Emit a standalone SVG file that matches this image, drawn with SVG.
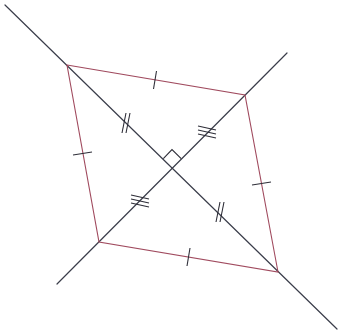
<svg xmlns="http://www.w3.org/2000/svg" width="339" height="334" viewBox="0 0 339 334">
<style>
.diag{stroke:#3a3d4a;stroke-width:1.2;fill:none;stroke-linecap:round}
.edge{stroke:#a04a5e;stroke-width:1.1;fill:none}
.tick{stroke:#2e2e38;stroke-width:1.1;fill:none}
</style>
<rect width="339" height="334" fill="#ffffff"/>
<g id="connectors">
<line class="diag" x1="5" y1="5" x2="337" y2="329"/>
<line class="diag" x1="57" y1="284" x2="287" y2="53"/>
<polygon class="edge" points="67,65 245,95 278,272 99,242"/>
</g>
<g id="right-angle">
<polyline class="tick" points="163.3,158.7 172,149.6 181.2,158.6"/>
</g>
<g id="edge-ticks">
<line class="tick" x1="153.5" y1="89" x2="156.5" y2="71"/>
<line class="tick" x1="73" y1="155" x2="92" y2="152"/>
<line class="tick" x1="252" y1="185" x2="271" y2="182"/>
<line class="tick" x1="187" y1="266" x2="190" y2="248"/>
</g>
<g id="diag-ticks">
<line class="tick" x1="122" y1="133" x2="126" y2="113"/>
<line class="tick" x1="126" y1="133" x2="130" y2="113"/>
<line class="tick" x1="216" y1="222" x2="220" y2="202"/>
<line class="tick" x1="220" y1="222" x2="224" y2="202"/>
<line class="tick" x1="198" y1="126" x2="216" y2="130"/>
<line class="tick" x1="198" y1="130" x2="216" y2="134"/>
<line class="tick" x1="198" y1="134" x2="216" y2="138"/>
<line class="tick" x1="131" y1="195" x2="149" y2="199"/>
<line class="tick" x1="131" y1="199" x2="149" y2="203"/>
<line class="tick" x1="131" y1="203" x2="149" y2="207"/>
</g>
</svg>
